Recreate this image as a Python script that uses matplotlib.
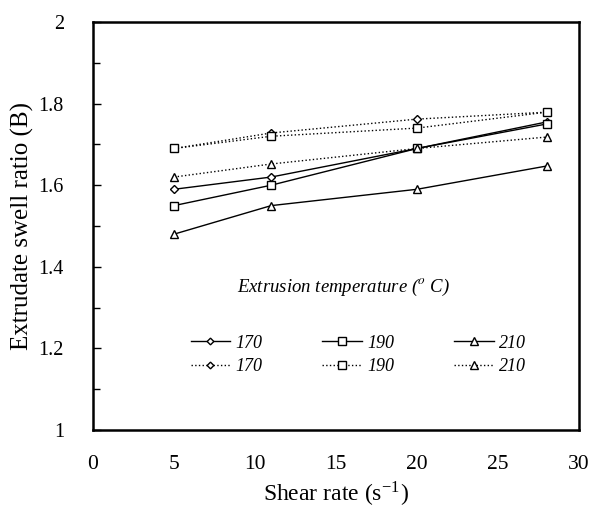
import matplotlib
matplotlib.use("Agg")
import matplotlib.pyplot as plt
from matplotlib.ticker import MultipleLocator

plt.rcParams['font.family'] = ['Liberation Serif', 'DejaVu Serif']
plt.rcParams['mathtext.fontset'] = 'stix'

shear = [5, 11, 20, 28]
solid_170 = [1.59, 1.62, 1.69, 1.755]
solid_190 = [1.55, 1.60, 1.69, 1.75]
solid_210 = [1.48, 1.55, 1.59, 1.647]
dot_170 = [1.69, 1.728, 1.762, 1.779]
dot_190 = [1.69, 1.72, 1.74, 1.779]
dot_210 = [1.62, 1.652, 1.69, 1.718]
labels = ['170', '190', '210']

fig = plt.figure(figsize=(5.94, 5.14), dpi=100)
ax = fig.add_axes([0.1566, 0.1634, 0.9747 - 0.1566, 0.9572 - 0.1634])

mk = dict(color='black', markerfacecolor='white', markeredgecolor='black', markeredgewidth=1.0)
h = []
h.append(ax.plot(shear, solid_170, '-', marker='D', markersize=4, lw=1.0, label=labels[0], **mk)[0])
h.append(ax.plot(shear, dot_170, ':', marker='D', markersize=4, lw=1.0, label=labels[0], **mk)[0])
h.append(ax.plot(shear, solid_190, '-', marker='s', markersize=6, lw=1.0, label=labels[1], **mk)[0])
h.append(ax.plot(shear, dot_190, ':', marker='s', markersize=6, lw=1.0, label=labels[1], **mk)[0])
h.append(ax.plot(shear, solid_210, '-', marker='^', markersize=6, lw=1.0, label=labels[2], **mk)[0])
h.append(ax.plot(shear, dot_210, ':', marker='^', markersize=6, lw=1.0, label=labels[2], **mk)[0])

ax.set_xlim(0, 30)
ax.set_ylim(1, 2)
ax.set_xticks([0, 5, 10, 15, 20, 25, 30])
ax.set_yticks([1, 1.2, 1.4, 1.6, 1.8, 2])
ax.set_yticklabels(['1', '1.2', '1.4', '1.6', '1.8', '2'])
ax.yaxis.set_minor_locator(MultipleLocator(0.1))
ax.tick_params(axis='y', which='major', direction='in', length=6, width=1, pad=21, labelsize=14.5)
ax.tick_params(axis='y', which='minor', direction='in', length=5, width=1)
ax.tick_params(axis='x', which='major', direction='in', length=0, pad=18, labelsize=15.5)
for s in ax.spines.values():
    s.set_linewidth(1.8)

ax.set_xlabel('Shear rate (s$^{\\mathregular{-1}}$)', fontsize=17, labelpad=4)
ax.set_ylabel('Extrudate swell ratio (B)', fontsize=18, labelpad=3)

ax.text(0.516, 0.35, 'Extrusion temperature ($^{\\mathit{o}}$ C)', transform=ax.transAxes,
        ha='center', va='center', fontsize=13.5, style='italic')

leg = ax.legend(handles=h, ncol=3, frameon=False, loc='center', bbox_to_anchor=(0.546, 0.184),
                prop={'style': 'italic', 'size': 13}, handlelength=2.2, handletextpad=0.3,
                columnspacing=3.3, labelspacing=0.35, markerscale=0.85)

fig.savefig('out.png', dpi=100)
